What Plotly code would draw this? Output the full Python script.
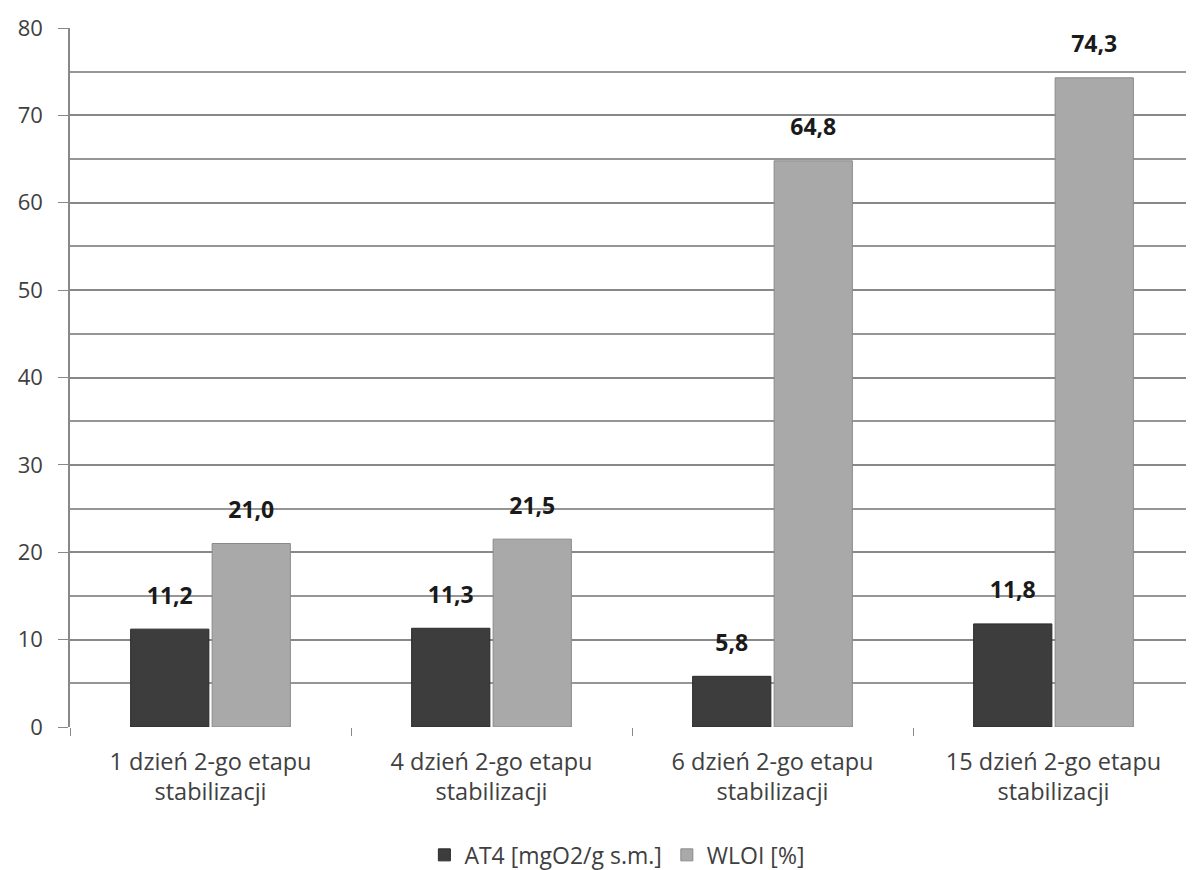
import plotly.graph_objects as go

categories = ["1 dzień 2-go etapu<br>stabilizacji", "4 dzień 2-go etapu<br>stabilizacji",
              "6 dzień 2-go etapu<br>stabilizacji", "15 dzień 2-go etapu<br>stabilizacji"]
at4 = [11.2, 11.3, 5.8, 11.8]
wloi = [21.0, 21.5, 64.8, 74.3]
series_names = ["AT4 [mgO2/g s.m.]", "WLOI [%]"]
tick_vals = [0, 10, 20, 30, 40, 50, 60, 70, 80]

FONT = "Open Sans"
fig = go.Figure()
fig.add_bar(x=categories, y=at4, name=series_names[0], offsetgroup="a",
            marker=dict(color="#3d3d3d", line=dict(color="#2a2a2a", width=1)))
fig.add_bar(x=categories, y=wloi, name=series_names[1], offsetgroup="b",
            marker=dict(color="#a9a9a9", line=dict(color="#8a8a8a", width=1)))
for vals, og in [(at4, "a"), (wloi, "b")]:
    fig.add_scatter(x=categories, y=vals, offsetgroup=og, mode="markers+text",
                    text=[f"{v:.1f}".replace(".", ",") for v in vals],
                    textposition="top center",
                    marker=dict(size=30, opacity=0),
                    textfont=dict(family=FONT, size=23, color="#1a1a1a", weight="bold"),
                    showlegend=False, hoverinfo="skip", cliponaxis=False)

# page body has an 8px default margin, so the figure is 8px smaller and offset
fig.update_layout(
    width=1186, height=862,
    margin=dict(l=62, r=0, t=20, b=143, autoexpand=False),
    paper_bgcolor="white", plot_bgcolor="white",
    barmode="group", scattermode="group", bargap=0.42, bargroupgap=0.04,
    font=dict(family=FONT, size=20, color="#404040"),
    legend=dict(orientation="h", x=0.487, xanchor="center", y=-0.183, yanchor="middle",
                font=dict(family=FONT, size=23, color="#404040"), itemwidth=30),
)
fig.update_xaxes(showgrid=False, ticks="outside", tickson="boundaries", ticklen=8,
                 tickcolor="#888888", showline=False, automargin=False,
                 ticklabelstandoff=18,
                 tickfont=dict(family=FONT, size=23.5, color="#404040"))
fig.update_yaxes(range=[0, 80], tickvals=tick_vals, showgrid=True, gridcolor="#888888",
                 gridwidth=1.5, showline=True, linecolor="#888888", linewidth=1.5,
                 ticks="outside", ticklen=10, tickcolor="#888888", zeroline=False,
                 automargin=False,
                 minor=dict(dtick=5, showgrid=True, gridcolor="#969696", gridwidth=1.5, ticks=""),
                 tickfont=dict(family=FONT, size=22, color="#404040"), ticklabelstandoff=11)
fig.write_html("out.html")
